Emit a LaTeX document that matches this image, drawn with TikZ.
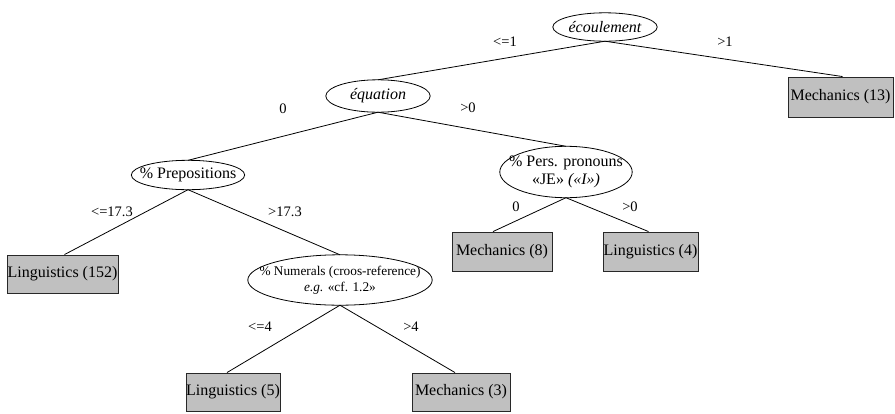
\documentclass[tikz,border=0pt]{standalone}
\usepackage{fontspec}
\setmainfont{Liberation Serif}
\usetikzlibrary{calc}
\definecolor{leafgray}{RGB}{192,192,192}
\definecolor{rim}{RGB}{40,40,40}
\begin{document}
\begin{tikzpicture}[x=1pt,y=-1pt,
  txt/.style={font=\fontsize{16}{18}\selectfont},
  small/.style={font=\fontsize{13.3}{16}\selectfont},
  split/.style={shape=rectangle, inner sep=0pt, align=center},
  leaf/.style={txt, shape=rectangle, draw=rim, fill=leafgray, line width=0.9pt, inner sep=0pt},
  branch/.style={draw=black, line width=0.8pt},
  cond/.style={font=\fontsize{14.5}{16}\selectfont, inner sep=0pt},
  outline/.style={draw=black, line width=0.8pt}]
\useasboundingbox (0,0) rectangle (895,413);

% test nodes (ellipse outlines are drawn afterwards)
\node[split, txt, minimum width=104, minimum height=28] (ecoul) at (605,27) {\itshape écoulement};
\node[split, txt, minimum width=104, minimum height=32] (equ) at (378,96) {\itshape équation};
\node[split, txt, minimum width=113, minimum height=29] (prep) at (188,175) {\% Prepositions};
\node[split, txt, minimum width=132, minimum height=51] (pers) at (566,172)
  {\% Pers. pronouns\\ «JE» \textit{(«I»)}};
\node[split, small, minimum width=184, minimum height=50] (num) at (340,280)
  {\% Numerals (croos-reference)\\ \textit{e.g.} «cf. 1.2»};

\foreach \s in {ecoul,equ,prep,pers,num}
  \draw[outline] let \p1 = ($(\s.north east)-(\s.center)$) in
    (\s.center) ellipse [x radius=\x1, y radius=\y1];

% leaves
\node[leaf, minimum width=105, minimum height=40] (mech13) at (840.5,97) {Mechanics (13)};
\node[leaf, minimum width=111, minimum height=38] (ling152) at (62.5,274) {Linguistics (152)};
\node[leaf, minimum width=100, minimum height=39] (mech8) at (502,251.5) {Mechanics (8)};
\node[leaf, minimum width=95, minimum height=39] (ling4) at (650.5,251.5) {Linguistics (4)};
\node[leaf, minimum width=94, minimum height=38] (ling5) at (233,392) {Linguistics (5)};
\node[leaf, minimum width=98, minimum height=38] (mech3) at (461,392) {Mechanics (3)};

% branches
\draw[branch] (ecoul.south) -- (equ.north);
\draw[branch] (ecoul.south) -- ([xshift=2pt]mech13.north);
\draw[branch] (equ.south) -- (prep.north);
\draw[branch] (equ.south) -- (pers.north);
\draw[branch] (prep.south) -- ([xshift=2pt]ling152.north);
\draw[branch] (prep.south) -- (num.north);
\draw[branch] (pers.south) -- ([xshift=-9pt]mech8.north);
\draw[branch] (pers.south) -- ([xshift=-2pt]ling4.north);
\draw[branch] (num.south) -- ([xshift=-6pt]ling5.north);
\draw[branch] (num.south) -- ([xshift=-6pt]mech3.north);

% branch conditions
\node[cond] (c1) at (505,42) {<=1};
\node[cond] (c2) at (725,42) {>1};
\node[cond] (c3) at (283,109) {0};
\node[cond] (c4) at (468,108) {>0};
\node[cond] (c5) at (112,212) {<=17.3};
\node[cond] (c6) at (285,212) {>17.3};
\node[cond] (c7) at (516,207) {0};
\node[cond] (c8) at (630,207) {>0};
\node[cond] (c9) at (260,327) {<=4};
\node[cond] (c10) at (411,327) {>4};
\end{tikzpicture}
\end{document}
